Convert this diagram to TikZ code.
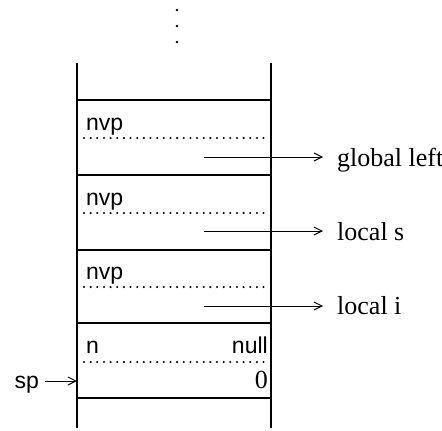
\documentclass[tikz,border=0pt]{standalone}
\usepackage{fontspec}
\setmainfont{Liberation Serif}
\setsansfont{Liberation Sans}
\usetikzlibrary{arrows.meta,positioning}

\begin{document}
\begin{tikzpicture}[x=1pt,y=-1pt,
  fld/.style={font=\sffamily\fontsize{23}{26}\selectfont,inner sep=0pt,anchor=base west},
  tag/.style={font=\fontsize{26}{30}\selectfont,inner sep=0pt,anchor=base west},
  arr/.style={-{Straight Barb[length=8pt,width=8pt]},line width=1pt},
  wall/.style={line width=1.1pt}]
\useasboundingbox (0,0) rectangle (442,431);
% stack walls
\draw[wall] (77,63) -- (77,428) (271,63) -- (271,428);
% frame boundaries
\foreach \y in {100,175,250,323,398}
  \draw[wall] (77,\y) -- (271,\y);
% dotted separators inside each frame
\foreach \y in {138,213,287,362}
  \foreach \x in {0,...,27}
    \fill (84+6.65*\x,\y) circle (1.15pt);
% continuation dots
\foreach \y in {10,26,42}
  \fill (177,\y) circle (1.4pt);
% field labels
\node[fld] (nvpa) at (86,130) {nvp};
\node[fld] (nvpb) at (86,205) {nvp};
\node[fld] (nvpc) at (86,279) {nvp};
\node[fld] (n) at (86,353) {n};
\node[fld,anchor=base east] (null) at (268,353) {null};
\node[tag,anchor=base east] (zero) at (268,388) {0};
% pointer targets
\node[tag] (gl) at (337,166) {global left};
\node[tag] (ls) at (337,240) {local s};
\node[tag] (li) at (337,314) {local i};
\coordinate (pa) at (204,157);
\coordinate (pb) at (204,231);
\coordinate (pc) at (204,306);
\draw[arr] (pa) -- ([xshift=-14pt]pa -| gl.west);
\draw[arr] (pb) -- ([xshift=-14pt]pb -| ls.west);
\draw[arr] (pc) -- ([xshift=-14pt]pc -| li.west);
% stack pointer
\node[fld,anchor=base east] (sp) at (39,388) {sp};
\coordinate (spt) at (77,381);
\draw[arr] ([xshift=6pt]spt -| sp.east) -- (spt);
\end{tikzpicture}
\end{document}
